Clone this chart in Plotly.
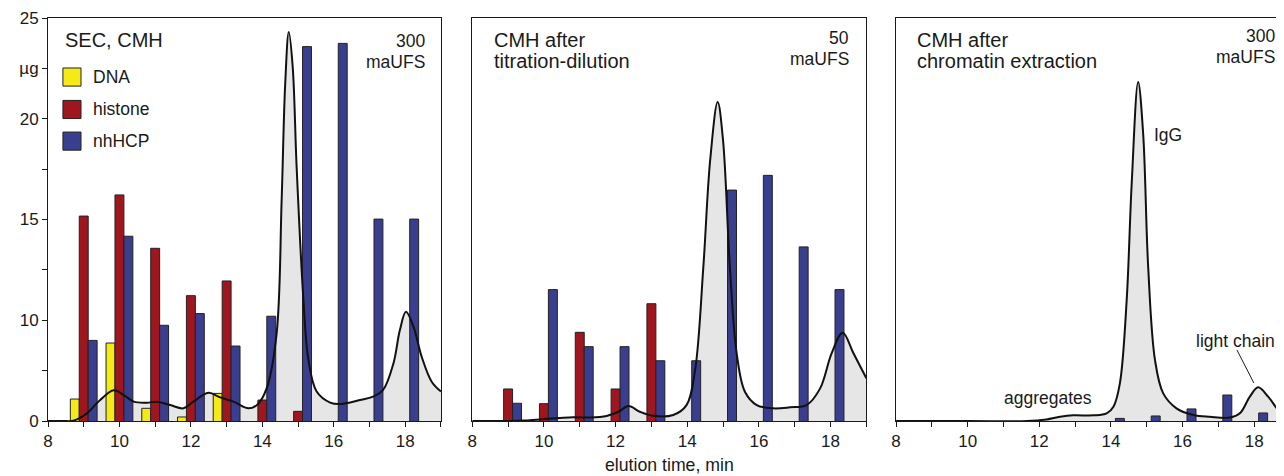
import plotly.graph_objects as go

# ---------------- data ----------------
fractions = [9, 10, 11, 12, 13, 14, 15, 16, 17, 18]

# plotted in the figure's own y scale (bottom of axis = 5, labelled "0")
sec_dna = [6.09, 8.87, 5.63, 5.2, 6.37, None, None, None, None, None]
sec_histone = [15.17, 16.22, 13.57, 11.22, 11.95, 6.04, 5.48, None, None, None]
sec_nhhcp = [9.0, 14.17, 9.75, 10.33, 8.72, 10.2, 23.58, 23.74, 15.02, 15.02]

td_histone = [6.59, 5.86, 9.40, 6.59, 10.82, None, None, None, None, None]
td_nhhcp = [5.88, 11.52, 8.69, 8.69, 7.99, 7.99, 16.46, 17.19, 13.64, 11.52]

ce_nhhcp = [None, None, None, None, None, 5.13, 5.25, 5.6, 6.29, 5.4]

# chromatograms (UV trace)
sec_t = [8.0, 8.4, 8.67, 8.81, 9.09, 9.46, 9.84, 10.12, 10.4, 10.77, 11.05, 11.42, 11.79,
         12.07, 12.49, 12.82, 13.19, 13.61, 13.85, 14.12, 14.4, 14.54, 14.64, 14.74, 14.85,
         14.96, 15.15, 15.29, 15.52, 15.9, 16.18, 16.73, 17.1, 17.38, 17.67, 17.85, 18.02,
         18.23, 18.46, 18.74, 19.0]
sec_a = [5.0, 5.0, 5.0, 5.08, 5.38, 6.04, 6.52, 6.29, 5.96, 5.91, 5.96, 5.79, 5.63,
         5.96, 6.4, 6.17, 5.96, 5.63, 5.79, 6.62, 9.35, 15.96, 21.74, 24.3, 22.57,
         17.6, 11.0, 8.03, 6.46, 5.91, 5.84, 6.04, 6.21, 6.54, 7.86, 9.51, 10.42,
         9.68, 8.19, 6.95, 6.46]

td_t = [8.0, 8.5, 8.96, 9.42, 9.89, 10.82, 11.29, 11.75, 12.08, 12.36, 12.68, 13.05,
        13.61, 13.98, 14.22, 14.45, 14.64, 14.85, 15.0, 15.19, 15.38, 15.61, 15.94,
        16.4, 16.87, 17.33, 17.71, 18.03, 18.34, 18.64, 19.0]
td_a = [5.0, 5.0, 5.0, 5.02, 5.08, 5.18, 5.17, 5.25, 5.46, 5.74, 5.46, 5.26,
        5.3, 5.79, 7.53, 12.65, 17.94, 20.83, 18.93, 12.65, 8.36, 6.45, 5.79,
        5.63, 5.68, 5.79, 6.62, 8.36, 9.38, 8.36, 7.12]

ce_t = [8.0, 10.0, 11.65, 12.2, 12.58, 12.95, 13.51, 13.88, 14.07, 14.25, 14.44, 14.58,
        14.76, 14.9, 15.04, 15.23, 15.46, 15.83, 16.3, 16.76, 17.32, 17.6, 17.88,
        18.11, 18.39, 18.72, 19.0]
ce_a = [5.0, 5.0, 5.0, 5.08, 5.21, 5.28, 5.28, 5.38, 5.71, 6.87, 11.0, 16.79,
        21.83, 19.26, 12.65, 8.03, 6.37, 5.63, 5.3, 5.21, 5.17, 5.38, 6.21,
        6.67, 6.21, 5.46, 5.25]

x_ticks = [8, 9, 10, 11, 12, 13, 14, 15, 16, 17, 18, 19]
x_ticktext = ["8", "", "10", "", "12", "", "14", "", "16", "", "18", ""]
y_ticks = [5, 7.5, 10, 12.5, 15, 17.5, 20, 22.5, 25]
y_ticktext = ["0", "", "10", "", "15", "", "20", "µg", "25"]

series_names = ["DNA", "histone", "nhHCP"]

# ---------------- style ----------------
FONT = "Liberation Sans, Arial, sans-serif"
INK = "#1a1a1a"
COLORS = {"DNA": "#f6ea16", "histone": "#a0161e", "nhHCP": "#3a3e8f"}
OFFSETS = {"DNA": -0.375, "histone": -0.125, "nhHCP": 0.125}
FILL = "#e6e6e6"

panels = [
    dict(domain=[0.0, 0.3164], curve=(sec_t, sec_a),
         bars={"DNA": sec_dna, "histone": sec_histone, "nhHCP": sec_nhhcp}),
    dict(domain=[0.3416, 0.6589], curve=(td_t, td_a),
         bars={"histone": td_histone, "nhHCP": td_nhhcp}),
    dict(domain=[0.6828, 1.0], curve=(ce_t, ce_a),
         bars={"nhHCP": ce_nhhcp}),
]
XRANGE = [8, 19]

fig = go.Figure()
layout = {}

for i, p in enumerate(panels):
    base = 2 * i + 1
    over = 2 * i + 2
    bx = "x" if base == 1 else f"x{base}"
    by = "y" if base == 1 else f"y{base}"
    ox, oy = f"x{over}", f"y{over}"
    t, a = p["curve"]

    # grey filled area under the chromatogram (drawn underneath the bars)
    fig.add_trace(go.Scatter(x=t, y=a, mode="lines", fill="tozeroy", fillcolor=FILL,
                             line=dict(width=0, shape="spline", smoothing=1.0, color=FILL),
                             xaxis=bx, yaxis=by, showlegend=False, hoverinfo="skip"))
    # bars on the overlay axes
    for name in series_names:
        if name in p["bars"]:
            fig.add_trace(go.Bar(x=fractions, y=p["bars"][name], width=0.25,
                                 offset=OFFSETS[name], marker_color=COLORS[name],
                                 marker_line=dict(color="#222222", width=1),
                                 xaxis=ox, yaxis=oy, showlegend=False, name=name))
    # chromatogram line on top
    fig.add_trace(go.Scatter(x=t, y=a, mode="lines",
                             line=dict(width=2, shape="spline", smoothing=1.0, color="#111111"),
                             xaxis=ox, yaxis=oy, showlegend=False, hoverinfo="skip"))

    xkey = "xaxis" if base == 1 else f"xaxis{base}"
    ykey = "yaxis" if base == 1 else f"yaxis{base}"
    layout[xkey] = dict(domain=p["domain"], range=XRANGE, anchor=by,
                        showline=True, linecolor=INK, linewidth=1, mirror=True,
                        ticks="outside", ticklen=5, tickwidth=1, tickcolor=INK,
                        tickvals=x_ticks, ticktext=x_ticktext,
                        tickfont=dict(family=FONT, size=17, color=INK),
                        showgrid=False, zeroline=False, fixedrange=True)
    ycfg = dict(domain=[0, 1], range=[5, 25], anchor=bx,
                showline=True, linecolor=INK, linewidth=1, mirror=True,
                showgrid=False, zeroline=False, fixedrange=True)
    if i == 0:
        ycfg.update(ticks="outside", ticklen=5, tickwidth=1, tickcolor=INK,
                    tickvals=y_ticks, ticktext=y_ticktext,
                    tickfont=dict(family=FONT, size=17, color=INK))
    else:
        ycfg.update(showticklabels=False, ticks="")
    layout[ykey] = ycfg
    layout[f"xaxis{over}"] = dict(overlaying=bx, range=XRANGE, anchor=oy,
                                  visible=False, fixedrange=True)
    layout[f"yaxis{over}"] = dict(overlaying=by, range=[5, 25], anchor=ox,
                                  visible=False, fixedrange=True)

annotations = []
shapes = []


def txt(text, x, y, xref, yref, size, xanchor="left"):
    annotations.append(dict(text=text, x=x, y=y, xref=xref, yref=yref, showarrow=False,
                            xanchor=xanchor, yanchor="middle",
                            font=dict(family=FONT, size=size, color=INK)))


# panel titles
txt("SEC, CMH", 0.038, 0.945, "x domain", "y domain", 20)
txt("CMH after", 0.05, 0.945, "x3 domain", "y3 domain", 20)
txt("titration-dilution", 0.05, 0.893, "x3 domain", "y3 domain", 20)
txt("CMH after", 0.048, 0.945, "x5 domain", "y5 domain", 20)
txt("chromatin extraction", 0.048, 0.893, "x5 domain", "y5 domain", 20)

# detector range
txt("300", 0.964, 0.943, "x domain", "y domain", 17.5, "right")
txt("maUFS", 0.964, 0.891, "x domain", "y domain", 17.5, "right")
txt("50", 0.961, 0.950, "x3 domain", "y3 domain", 17.5, "right")
txt("maUFS", 0.961, 0.898, "x3 domain", "y3 domain", 17.5, "right")
txt("300", 0.967, 0.955, "x5 domain", "y5 domain", 17.5, "right")
txt("maUFS", 0.967, 0.903, "x5 domain", "y5 domain", 17.5, "right")

# peak labels (panel 3)
txt("IgG", 15.59, 19.19, "x5", "y5", 17.5, "center")
txt("aggregates", 12.24, 6.14, "x5", "y5", 17.5, "center")
txt("light chain", 17.49, 8.97, "x5", "y5", 17.5, "center")
shapes.append(dict(type="line", x0=17.52, y0=8.52, x1=17.99, y1=6.89, xref="x5", yref="y5",
                   line=dict(color=INK, width=1)))

# manual legend (panel 1)
legend_rows = [0.8535, 0.773, 0.6945]
for name, yc in zip(series_names, legend_rows):
    shapes.append(dict(type="rect", xref="x domain", yref="y domain",
                       x0=0.038, x1=0.084, y0=yc - 0.0225, y1=yc + 0.0225,
                       fillcolor=COLORS[name], line=dict(color="#222222", width=1)))
    txt(name, 0.109, yc, "x domain", "y domain", 17.5)

# shared x-axis title
txt("elution time, min", 0.5, -0.109, "x3 domain", "paper", 17.7, "center")

fig.update_layout(
    **layout,
    width=1284, height=476,
    margin=dict(l=40, r=2, t=10, b=63),
    paper_bgcolor="white", plot_bgcolor="white",
    barmode="overlay",
    annotations=annotations, shapes=shapes,
    showlegend=False,
    font=dict(family=FONT, color=INK),
)

fig.write_html("out.html")
